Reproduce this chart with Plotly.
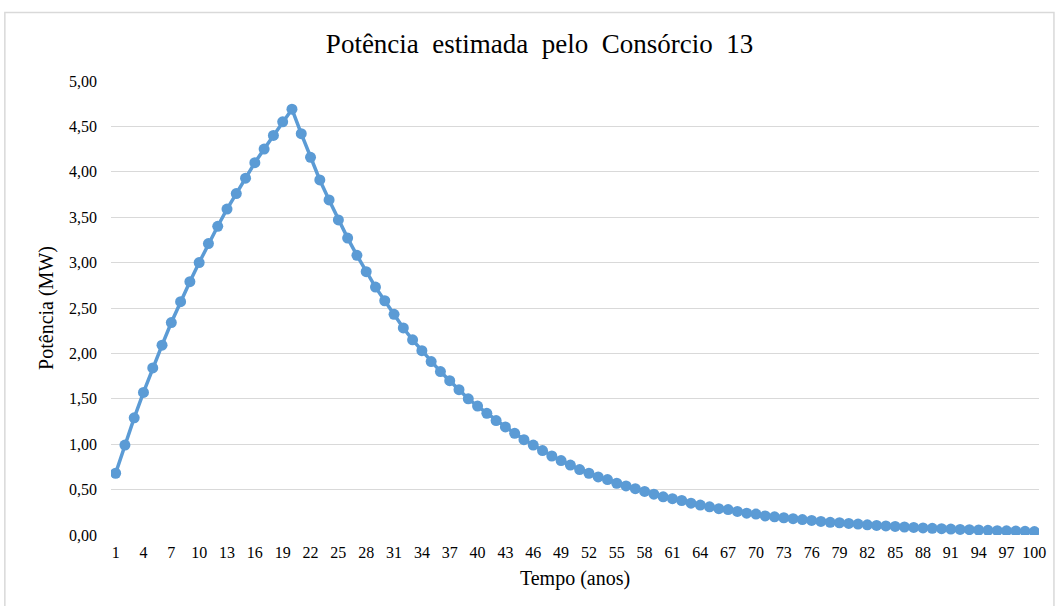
import plotly.graph_objects as go

anos = list(range(1, 101))
potencia = [
    0.68, 0.99, 1.29, 1.57, 1.84, 2.09, 2.34, 2.57, 2.79, 3.00,
    3.21, 3.40, 3.59, 3.76, 3.93, 4.10, 4.25, 4.40, 4.55, 4.69,
    4.42, 4.16, 3.91, 3.69, 3.47, 3.27, 3.08, 2.90, 2.73, 2.58,
    2.43, 2.28, 2.15, 2.03, 1.91, 1.80, 1.70, 1.60, 1.50, 1.42,
    1.34, 1.26, 1.19, 1.12, 1.05, 0.99, 0.93, 0.87, 0.82, 0.77,
    0.72, 0.68, 0.64, 0.61, 0.57, 0.54, 0.51, 0.48, 0.45, 0.42,
    0.40, 0.38, 0.35, 0.33, 0.31, 0.29, 0.28, 0.26, 0.24, 0.23,
    0.21, 0.20, 0.19, 0.18, 0.17, 0.16, 0.15, 0.14, 0.135, 0.127,
    0.12, 0.112, 0.106, 0.10, 0.094, 0.088, 0.083, 0.078, 0.074, 0.069,
    0.065, 0.061, 0.058, 0.055, 0.051, 0.048, 0.046, 0.043, 0.041, 0.038,
]
x_ticks = list(range(1, 101, 3))
y_ticks = [0, 0.5, 1, 1.5, 2, 2.5, 3, 3.5, 4, 4.5, 5]

titulo = "Potência\u00a0 estimada\u00a0 pelo\u00a0 Consórcio\u00a0 13"
x_titulo = "Tempo (anos)"
y_titulo = "Potência (MW)"

azul = "#5B9BD5"
font_fam = "Liberation Serif"

fig = go.Figure()
fig.add_trace(go.Scatter(
    x=anos, y=potencia, mode="lines+markers",
    line=dict(color=azul, width=3.5),
    marker=dict(color=azul, size=11),
    showlegend=False, hoverinfo="x+y",
))

L, R, T, B = 111, 16, 81, 71
W, H = 1058, 606
pw, ph = W - L - R, H - T - B

def px_x(p):
    return (p - L) / pw

def px_y(p):
    return (H - B - p) / ph

fig.update_layout(
    width=W, height=H,
    margin=dict(l=L, r=R, t=T, b=B),
    paper_bgcolor="white", plot_bgcolor="white",
    separators=",.",
    font=dict(family=font_fam, color="#000000", size=16),
    title=dict(text=titulo, x=0.51, xanchor="center", y=1 - 44 / H, yanchor="middle",
               font=dict(family=font_fam, size=27, color="#000000")),
    xaxis=dict(
        range=[0.5, 100.5], tickmode="array", tickvals=x_ticks,
        ticktext=[str(v) for v in x_ticks], showgrid=False, zeroline=False,
        showline=False, ticks="", ticklabelstandoff=6,
        tickfont=dict(family=font_fam, size=16, color="#000000"),
        title=dict(text=x_titulo, font=dict(family=font_fam, size=20, color="#000000"), standoff=10),
    ),
    yaxis=dict(
        range=[0, 5], tickmode="array", tickvals=y_ticks, tickformat=".2f",
        showgrid=True, gridcolor="#D9D9D9", gridwidth=1.3, zeroline=False,
        showline=False, ticks="", ticklabelstandoff=13,
        tickfont=dict(family=font_fam, size=16, color="#000000"),
        title=dict(text=y_titulo, font=dict(family=font_fam, size=20, color="#000000"), standoff=10),
    ),
    shapes=[dict(
        type="rect", xref="paper", yref="paper",
        x0=px_x(4.5), x1=px_x(1057), y0=px_y(12.5), y1=px_y(620),
        line=dict(color="#D9D9D9", width=1.5), fillcolor="rgba(0,0,0,0)", layer="below",
    )],
)

fig.write_html("out.html", config={"displayModeBar": False},
               post_script="document.body.style.margin='0';document.body.style.padding='0';")
